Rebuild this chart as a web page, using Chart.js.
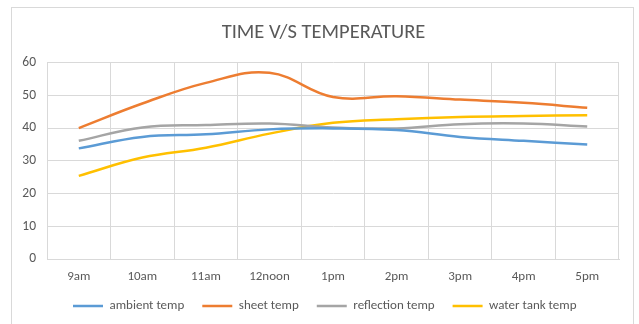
<!DOCTYPE html>
<html>
<head>
<meta charset="utf-8">
<script src="https://cdn.jsdelivr.net/npm/chart.js@4/dist/chart.umd.min.js"></script>
<style>
  html, body { margin: 0; padding: 0; background: #fff; }
  #wrap { position: relative; width: 639px; height: 324px; overflow: hidden; }
  #frame { position: absolute; left: 11px; top: 7px; width: 623px; height: 330px; border: 1px solid #d9d9d9; box-sizing: border-box; }
  canvas { position: absolute; left: 0; top: 0; }
</style>
</head>
<body>
<div id="wrap">
  <div id="frame"></div>
  <canvas id="c" width="639" height="324"></canvas>
</div>
<script>
const categories = ['9am', '10am', '11am', '12noon', '1pm', '2pm', '3pm', '4pm', '5pm'];
const ambientTemp = [33.8, 37.3, 38.1, 39.6, 39.9, 39.4, 37.3, 36.1, 35.0];
const sheetTemp = [40.0, 47.5, 53.8, 56.9, 49.5, 49.7, 48.7, 47.7, 46.2];
const reflectionTemp = [36.1, 40.2, 40.9, 41.4, 40.2, 39.9, 41.2, 41.4, 40.5];
const waterTankTemp = [25.4, 31.0, 34.0, 38.3, 41.6, 42.7, 43.4, 43.7, 43.9];
const yTicks = [0, 10, 20, 30, 40, 50, 60];

const FONT = "Carlito, Calibri, 'Liberation Sans Narrow', 'Open Sans', sans-serif";
const TEXT = '#595959';
const GRID = '#d9d9d9';

function ds(label, data, color) {
  return { label, data, borderColor: color, backgroundColor: color, borderWidth: 2.5,
           pointRadius: 0, pointHoverRadius: 0, tension: 0.4, fill: false };
}

// place the legend row and the title where the reference has them
const boxShift = {
  id: 'boxShift',
  afterLayout(chart) {
    const lg = chart.legend;
    if (lg) { lg.left += 55; lg.right += 55; lg.top -= 1.5; lg.bottom -= 1.5; }
    const tt = chart.titleBlock;
    if (tt) { tt.left += 14; tt.right += 14; }
  }
};

new Chart(document.getElementById('c'), {
  type: 'line',
  data: {
    labels: categories,
    datasets: [
      ds('ambient temp', ambientTemp, '#5b9bd5'),
      ds('sheet temp', sheetTemp, '#ed7d31'),
      ds('reflection temp', reflectionTemp, '#a5a5a5'),
      ds('water tank temp', waterTankTemp, '#ffc000')
    ]
  },
  plugins: [boxShift],
  options: {
    responsive: false,
    animation: false,
    layout: { padding: { left: 0, right: 20, top: 0, bottom: 0 } },
    plugins: {
      tooltip: { enabled: false },
      title: {
        display: true, text: 'TIME V/S TEMPERATURE', color: TEXT,
        font: { family: FONT, size: 20.5, weight: 'normal' },
        padding: { top: 21, bottom: 17 }
      },
      legend: {
        position: 'bottom',
        align: 'start',
        labels: {
          color: TEXT, font: { family: FONT, size: 13 },
          usePointStyle: true, pointStyle: 'line', pointStyleWidth: 30,
          padding: 18
        }
      }
    },
    scales: {
      x: {
        offset: true,
        afterFit: s => { s.height = 24; },
        grid: { offset: true, color: GRID, lineWidth: 1, drawTicks: false },
        border: { color: GRID },
        ticks: { color: TEXT, font: { family: FONT, size: 13 }, padding: 10, maxRotation: 0 }
      },
      y: {
        min: 0, max: 60,
        afterBuildTicks: s => { s.ticks = yTicks.map(v => ({ value: v })); },
        afterFit: s => { s.width = 47; },
        grid: { color: GRID, lineWidth: 1, drawTicks: false },
        border: { color: GRID },
        ticks: { color: TEXT, font: { family: FONT, size: 13.5 }, padding: 11 }
      }
    }
  }
});
</script>
</body>
</html>
